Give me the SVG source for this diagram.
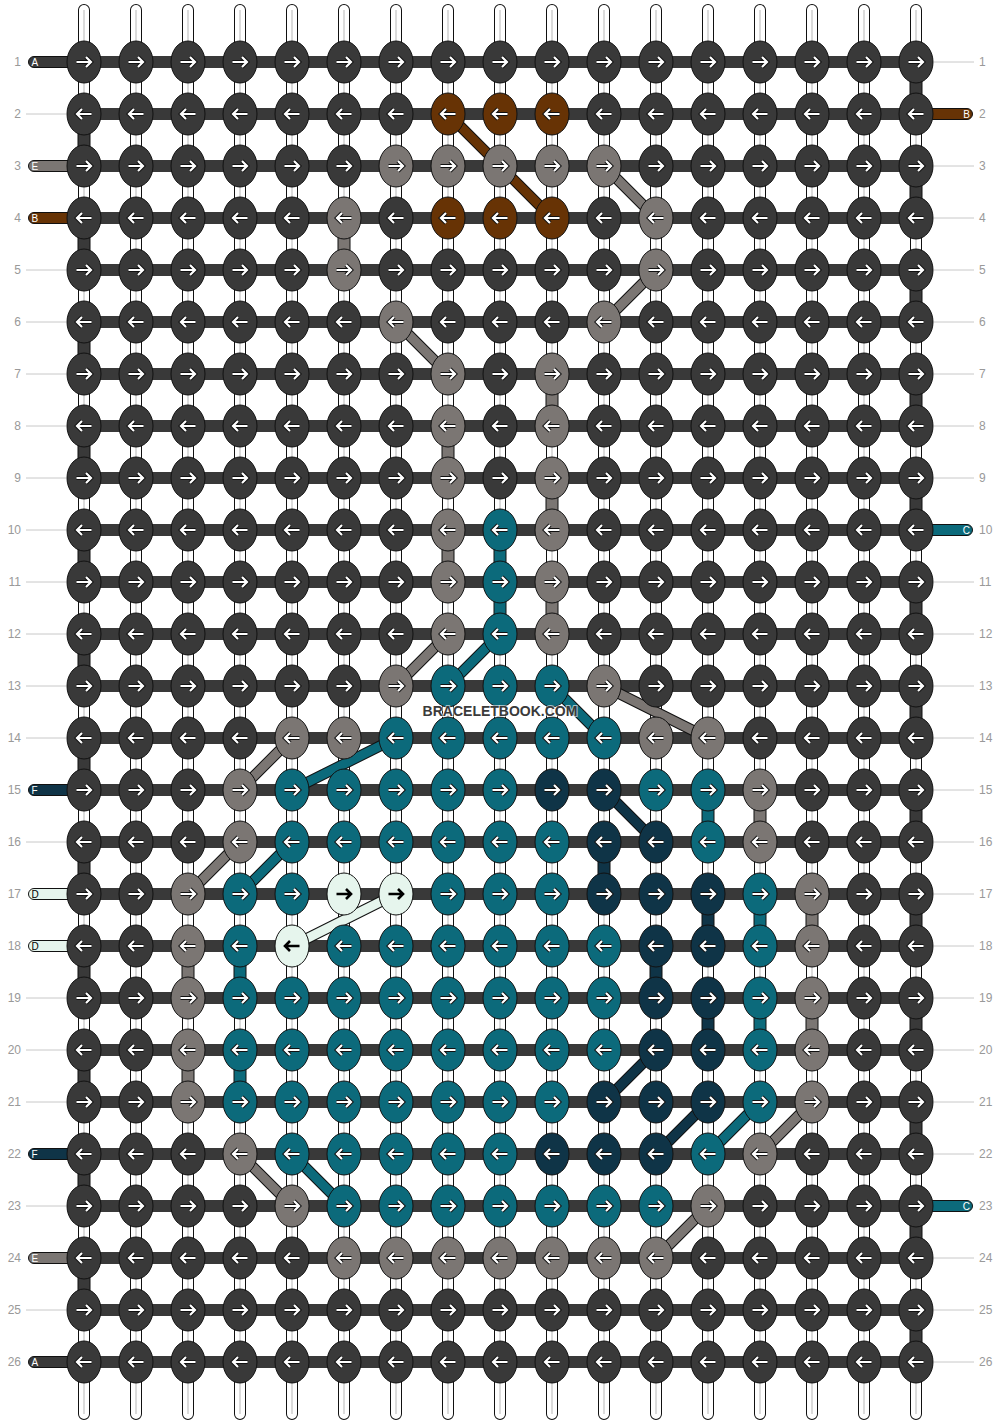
<svg xmlns="http://www.w3.org/2000/svg" width="1000" height="1424" viewBox="0 0 1000 1424">
<style>
.d{fill:#393939}.g{fill:#7b7673}.b{fill:#673305}.t{fill:#0c6a7b}.n{fill:#0f3447}.p{fill:#e6f5ed}
ellipse,.c{stroke:#111;stroke-width:1}
.ao{fill:none;stroke:#111;stroke-width:4.2}
.ai{fill:none;stroke:#fff;stroke-width:2.2}
.ab{fill:none;stroke:#000;stroke-width:2.6}
.w1{fill:none;stroke:#111;stroke-width:12;stroke-linecap:round}
.w2{fill:none;stroke:#fff;stroke-width:10;stroke-linecap:round}
.w3{fill:none;stroke:#c4c4c4;stroke-width:1.2}
.hb{fill:none;stroke:#393939;stroke-width:12}
.do{fill:none;stroke:#111;stroke-width:11}
.sb{fill:none;stroke:#673305;stroke-width:9}
.sg{fill:none;stroke:#7b7673;stroke-width:9}
.st{fill:none;stroke:#0c6a7b;stroke-width:9}
.sn{fill:none;stroke:#0f3447;stroke-width:9}
.sp{fill:none;stroke:#e6f5ed;stroke-width:9}
.tl{fill:none;stroke:#c8c8c8;stroke-width:1}
.rn{font-family:"Liberation Sans",Arial,sans-serif;font-size:12px;fill:#999}
.lt{font-family:"Liberation Sans",Arial,sans-serif;font-size:10px;fill:#fff}
.lk{fill:#000}
.wm{font-family:"Liberation Sans",Arial,sans-serif;font-size:14px;font-weight:bold;fill:#3a3a3a;stroke:#fff;stroke-width:2;stroke-opacity:0.6;paint-order:stroke}
</style>
<defs>
<path id="wp" d="M84 10V1414M136 10V1414M188 10V1414M240 10V1414M292 10V1414M344 10V1414M396 10V1414M448 10V1414M500 10V1414M552 10V1414M604 10V1414M656 10V1414M708 10V1414M760 10V1414M812 10V1414M864 10V1414M916 10V1414"/>
<g id="R"><path class="ao" d="M-7.5 0H6.5M2 -5L7 0L2 5"/><path class="ai" d="M-7.5 0H6.5M2 -5L7 0L2 5"/></g>
<g id="L"><use href="#R" transform="scale(-1 1)"/></g>
<g id="Rb"><path class="ab" d="M-7.5 0H6.5M2 -5L7 0L2 5"/></g>
<g id="Lb"><use href="#Rb" transform="scale(-1 1)"/></g>
</defs>
<rect width="1000" height="1424" fill="#fff"/>
<g id="connectors">
<g id="warp"><use href="#wp" class="w1"/><use href="#wp" class="w2"/><use href="#wp" class="w3"/></g>
<g id="edge-links">
<rect class="c d" x="78" y="129" width="12" height="22"/><rect class="c d" x="78" y="233" width="12" height="22"/><rect class="c d" x="78" y="337" width="12" height="22"/><rect class="c d" x="78" y="441" width="12" height="22"/><rect class="c d" x="78" y="545" width="12" height="22"/><rect class="c d" x="78" y="649" width="12" height="22"/><rect class="c d" x="78" y="753" width="12" height="22"/><rect class="c d" x="78" y="857" width="12" height="22"/><rect class="c d" x="78" y="961" width="12" height="22"/><rect class="c d" x="78" y="1065" width="12" height="22"/><rect class="c d" x="78" y="1169" width="12" height="22"/><rect class="c d" x="78" y="1273" width="12" height="22"/>
<rect class="c d" x="910" y="77" width="12" height="22"/><rect class="c d" x="910" y="181" width="12" height="22"/><rect class="c d" x="910" y="285" width="12" height="22"/><rect class="c d" x="910" y="389" width="12" height="22"/><rect class="c d" x="910" y="493" width="12" height="22"/><rect class="c d" x="910" y="597" width="12" height="22"/><rect class="c d" x="910" y="701" width="12" height="22"/><rect class="c d" x="910" y="805" width="12" height="22"/><rect class="c d" x="910" y="909" width="12" height="22"/><rect class="c d" x="910" y="1013" width="12" height="22"/><rect class="c d" x="910" y="1117" width="12" height="22"/><rect class="c d" x="910" y="1221" width="12" height="22"/><rect class="c d" x="910" y="1325" width="12" height="22"/>
</g>
<g id="vertical-links">
<rect class="c g" x="338" y="233" width="12" height="22"/>
<rect class="c g" x="546" y="389" width="12" height="22"/><rect class="c g" x="546" y="493" width="12" height="22"/><rect class="c g" x="546" y="597" width="12" height="22"/>
<rect class="c g" x="442" y="441" width="12" height="22"/><rect class="c g" x="442" y="545" width="12" height="22"/>
<rect class="c t" x="494" y="545" width="12" height="22"/><rect class="c t" x="494" y="597" width="12" height="22"/>
<rect class="c t" x="702" y="805" width="12" height="22"/><rect class="c g" x="754" y="805" width="12" height="22"/>
<rect class="c n" x="598" y="857" width="12" height="22"/>
<rect class="c n" x="702" y="909" width="12" height="22"/><rect class="c t" x="754" y="909" width="12" height="22"/><rect class="c g" x="806" y="909" width="12" height="22"/>
<rect class="c n" x="650" y="961" width="12" height="22"/><rect class="c g" x="182" y="961" width="12" height="22"/><rect class="c t" x="234" y="961" width="12" height="22"/>
<rect class="c n" x="702" y="1013" width="12" height="22"/><rect class="c t" x="754" y="1013" width="12" height="22"/><rect class="c g" x="806" y="1013" width="12" height="22"/>
<rect class="c g" x="182" y="1065" width="12" height="22"/><rect class="c t" x="234" y="1065" width="12" height="22"/>
</g>
<path id="rows" class="hb" d="M84 62H916M84 114H916M84 166H916M84 218H916M84 270H916M84 322H916M84 374H916M84 426H916M84 478H916M84 530H916M84 582H916M84 634H916M84 686H916M84 738H916M84 790H916M84 842H916M84 894H916M84 946H916M84 998H916M84 1050H916M84 1102H916M84 1154H916M84 1206H916M84 1258H916M84 1310H916M84 1362H916"/>
<g id="diagonals">
<path class="do" d="M448 114L552 218M604 166L656 218M656 270L604 322M396 322L448 374M448 634L396 686M604 686L708 738M292 738L240 790M240 842L188 894M812 1102L760 1154M240 1154L292 1206M708 1206L656 1258M500 634L448 686M552 686L604 738M396 738L292 790M292 842L240 894M760 1102L708 1154M292 1154L344 1206M604 790L656 842M656 1050L604 1102M708 1102L656 1154M396 894L292 946"/>
<path class="sb" d="M448 114L552 218"/>
<path class="sg" d="M604 166L656 218M656 270L604 322M396 322L448 374M448 634L396 686M604 686L708 738M292 738L240 790M240 842L188 894M812 1102L760 1154M240 1154L292 1206M708 1206L656 1258"/>
<path class="st" d="M500 634L448 686M552 686L604 738M396 738L292 790M292 842L240 894M760 1102L708 1154M292 1154L344 1206"/>
<path class="sn" d="M604 790L656 842M656 1050L604 1102M708 1102L656 1154"/>
<path class="sp" d="M396 894L292 946"/>
</g>
</g>
<g id="labels">
<path class="tl" d="M26 114H66M26 270H66M26 322H66M26 374H66M26 426H66M26 478H66M26 530H66M26 582H66M26 634H66M26 686H66M26 738H66M26 842H66M26 998H66M26 1050H66M26 1102H66M26 1206H66M26 1310H66"/>
<path class="tl" d="M934 62H974M934 166H974M934 218H974M934 270H974M934 322H974M934 374H974M934 426H974M934 478H974M934 582H974M934 634H974M934 686H974M934 738H974M934 790H974M934 842H974M934 894H974M934 946H974M934 998H974M934 1050H974M934 1102H974M934 1154H974M934 1258H974M934 1310H974M934 1362H974"/>
<g id="str-left">
<path class="c d" d="M76 56.5H34a5.5 5.5 0 0 0 0 11H76z"/><text class="lt" x="31.5" y="65.5">A</text>
<path class="c g" d="M76 160.5H34a5.5 5.5 0 0 0 0 11H76z"/><text class="lt" x="31.5" y="169.5">E</text>
<path class="c b" d="M76 212.5H34a5.5 5.5 0 0 0 0 11H76z"/><text class="lt" x="31.5" y="221.5">B</text>
<path class="c n" d="M76 784.5H34a5.5 5.5 0 0 0 0 11H76z"/><text class="lt" x="31.5" y="793.5">F</text>
<path class="c p" d="M76 888.5H34a5.5 5.5 0 0 0 0 11H76z"/><text class="lt lk" x="31.5" y="897.5">D</text>
<path class="c p" d="M76 940.5H34a5.5 5.5 0 0 0 0 11H76z"/><text class="lt lk" x="31.5" y="949.5">D</text>
<path class="c n" d="M76 1148.5H34a5.5 5.5 0 0 0 0 11H76z"/><text class="lt" x="31.5" y="1157.5">F</text>
<path class="c g" d="M76 1252.5H34a5.5 5.5 0 0 0 0 11H76z"/><text class="lt" x="31.5" y="1261.5">E</text>
<path class="c d" d="M76 1356.5H34a5.5 5.5 0 0 0 0 11H76z"/><text class="lt" x="31.5" y="1365.5">A</text>
</g>
<g id="str-right">
<path class="c b" d="M924 108.5H967a5.5 5.5 0 0 1 0 11H924z"/><text class="lt" x="970" y="117.5" text-anchor="end">B</text>
<path class="c t" d="M924 524.5H967a5.5 5.5 0 0 1 0 11H924z"/><text class="lt" x="970" y="533.5" text-anchor="end">C</text>
<path class="c t" d="M924 1200.5H967a5.5 5.5 0 0 1 0 11H924z"/><text class="lt" x="970" y="1209.5" text-anchor="end">C</text>
</g>
<g id="row-numbers-left" class="rn" text-anchor="end">
<text x="21" y="66">1</text><text x="21" y="118">2</text><text x="21" y="170">3</text><text x="21" y="222">4</text><text x="21" y="274">5</text><text x="21" y="326">6</text><text x="21" y="378">7</text><text x="21" y="430">8</text><text x="21" y="482">9</text><text x="21" y="534">10</text><text x="21" y="586">11</text><text x="21" y="638">12</text><text x="21" y="690">13</text><text x="21" y="742">14</text><text x="21" y="794">15</text><text x="21" y="846">16</text><text x="21" y="898">17</text><text x="21" y="950">18</text><text x="21" y="1002">19</text><text x="21" y="1054">20</text><text x="21" y="1106">21</text><text x="21" y="1158">22</text><text x="21" y="1210">23</text><text x="21" y="1262">24</text><text x="21" y="1314">25</text><text x="21" y="1366">26</text>
</g>
<g id="row-numbers-right" class="rn">
<text x="979" y="66">1</text><text x="979" y="118">2</text><text x="979" y="170">3</text><text x="979" y="222">4</text><text x="979" y="274">5</text><text x="979" y="326">6</text><text x="979" y="378">7</text><text x="979" y="430">8</text><text x="979" y="482">9</text><text x="979" y="534">10</text><text x="979" y="586">11</text><text x="979" y="638">12</text><text x="979" y="690">13</text><text x="979" y="742">14</text><text x="979" y="794">15</text><text x="979" y="846">16</text><text x="979" y="898">17</text><text x="979" y="950">18</text><text x="979" y="1002">19</text><text x="979" y="1054">20</text><text x="979" y="1106">21</text><text x="979" y="1158">22</text><text x="979" y="1210">23</text><text x="979" y="1262">24</text><text x="979" y="1314">25</text><text x="979" y="1366">26</text>
</g>
</g>
<g id="knots">
<g id="k1_1" transform="translate(84 62)"><ellipse class="d" rx="17" ry="21"/><use href="#R"/></g>
<g id="k1_2" transform="translate(136 62)"><ellipse class="d" rx="17" ry="21"/><use href="#R"/></g>
<g id="k1_3" transform="translate(188 62)"><ellipse class="d" rx="17" ry="21"/><use href="#R"/></g>
<g id="k1_4" transform="translate(240 62)"><ellipse class="d" rx="17" ry="21"/><use href="#R"/></g>
<g id="k1_5" transform="translate(292 62)"><ellipse class="d" rx="17" ry="21"/><use href="#R"/></g>
<g id="k1_6" transform="translate(344 62)"><ellipse class="d" rx="17" ry="21"/><use href="#R"/></g>
<g id="k1_7" transform="translate(396 62)"><ellipse class="d" rx="17" ry="21"/><use href="#R"/></g>
<g id="k1_8" transform="translate(448 62)"><ellipse class="d" rx="17" ry="21"/><use href="#R"/></g>
<g id="k1_9" transform="translate(500 62)"><ellipse class="d" rx="17" ry="21"/><use href="#R"/></g>
<g id="k1_10" transform="translate(552 62)"><ellipse class="d" rx="17" ry="21"/><use href="#R"/></g>
<g id="k1_11" transform="translate(604 62)"><ellipse class="d" rx="17" ry="21"/><use href="#R"/></g>
<g id="k1_12" transform="translate(656 62)"><ellipse class="d" rx="17" ry="21"/><use href="#R"/></g>
<g id="k1_13" transform="translate(708 62)"><ellipse class="d" rx="17" ry="21"/><use href="#R"/></g>
<g id="k1_14" transform="translate(760 62)"><ellipse class="d" rx="17" ry="21"/><use href="#R"/></g>
<g id="k1_15" transform="translate(812 62)"><ellipse class="d" rx="17" ry="21"/><use href="#R"/></g>
<g id="k1_16" transform="translate(864 62)"><ellipse class="d" rx="17" ry="21"/><use href="#R"/></g>
<g id="k1_17" transform="translate(916 62)"><ellipse class="d" rx="17" ry="21"/><use href="#R"/></g>
<g id="k2_1" transform="translate(84 114)"><ellipse class="d" rx="17" ry="21"/><use href="#L"/></g>
<g id="k2_2" transform="translate(136 114)"><ellipse class="d" rx="17" ry="21"/><use href="#L"/></g>
<g id="k2_3" transform="translate(188 114)"><ellipse class="d" rx="17" ry="21"/><use href="#L"/></g>
<g id="k2_4" transform="translate(240 114)"><ellipse class="d" rx="17" ry="21"/><use href="#L"/></g>
<g id="k2_5" transform="translate(292 114)"><ellipse class="d" rx="17" ry="21"/><use href="#L"/></g>
<g id="k2_6" transform="translate(344 114)"><ellipse class="d" rx="17" ry="21"/><use href="#L"/></g>
<g id="k2_7" transform="translate(396 114)"><ellipse class="d" rx="17" ry="21"/><use href="#L"/></g>
<g id="k2_8" transform="translate(448 114)"><ellipse class="b" rx="17" ry="21"/><use href="#L"/></g>
<g id="k2_9" transform="translate(500 114)"><ellipse class="b" rx="17" ry="21"/><use href="#L"/></g>
<g id="k2_10" transform="translate(552 114)"><ellipse class="b" rx="17" ry="21"/><use href="#L"/></g>
<g id="k2_11" transform="translate(604 114)"><ellipse class="d" rx="17" ry="21"/><use href="#L"/></g>
<g id="k2_12" transform="translate(656 114)"><ellipse class="d" rx="17" ry="21"/><use href="#L"/></g>
<g id="k2_13" transform="translate(708 114)"><ellipse class="d" rx="17" ry="21"/><use href="#L"/></g>
<g id="k2_14" transform="translate(760 114)"><ellipse class="d" rx="17" ry="21"/><use href="#L"/></g>
<g id="k2_15" transform="translate(812 114)"><ellipse class="d" rx="17" ry="21"/><use href="#L"/></g>
<g id="k2_16" transform="translate(864 114)"><ellipse class="d" rx="17" ry="21"/><use href="#L"/></g>
<g id="k2_17" transform="translate(916 114)"><ellipse class="d" rx="17" ry="21"/><use href="#L"/></g>
<g id="k3_1" transform="translate(84 166)"><ellipse class="d" rx="17" ry="21"/><use href="#R"/></g>
<g id="k3_2" transform="translate(136 166)"><ellipse class="d" rx="17" ry="21"/><use href="#R"/></g>
<g id="k3_3" transform="translate(188 166)"><ellipse class="d" rx="17" ry="21"/><use href="#R"/></g>
<g id="k3_4" transform="translate(240 166)"><ellipse class="d" rx="17" ry="21"/><use href="#R"/></g>
<g id="k3_5" transform="translate(292 166)"><ellipse class="d" rx="17" ry="21"/><use href="#R"/></g>
<g id="k3_6" transform="translate(344 166)"><ellipse class="d" rx="17" ry="21"/><use href="#R"/></g>
<g id="k3_7" transform="translate(396 166)"><ellipse class="g" rx="17" ry="21"/><use href="#R"/></g>
<g id="k3_8" transform="translate(448 166)"><ellipse class="g" rx="17" ry="21"/><use href="#R"/></g>
<g id="k3_9" transform="translate(500 166)"><ellipse class="g" rx="17" ry="21"/><use href="#R"/></g>
<g id="k3_10" transform="translate(552 166)"><ellipse class="g" rx="17" ry="21"/><use href="#R"/></g>
<g id="k3_11" transform="translate(604 166)"><ellipse class="g" rx="17" ry="21"/><use href="#R"/></g>
<g id="k3_12" transform="translate(656 166)"><ellipse class="d" rx="17" ry="21"/><use href="#R"/></g>
<g id="k3_13" transform="translate(708 166)"><ellipse class="d" rx="17" ry="21"/><use href="#R"/></g>
<g id="k3_14" transform="translate(760 166)"><ellipse class="d" rx="17" ry="21"/><use href="#R"/></g>
<g id="k3_15" transform="translate(812 166)"><ellipse class="d" rx="17" ry="21"/><use href="#R"/></g>
<g id="k3_16" transform="translate(864 166)"><ellipse class="d" rx="17" ry="21"/><use href="#R"/></g>
<g id="k3_17" transform="translate(916 166)"><ellipse class="d" rx="17" ry="21"/><use href="#R"/></g>
<g id="k4_1" transform="translate(84 218)"><ellipse class="d" rx="17" ry="21"/><use href="#L"/></g>
<g id="k4_2" transform="translate(136 218)"><ellipse class="d" rx="17" ry="21"/><use href="#L"/></g>
<g id="k4_3" transform="translate(188 218)"><ellipse class="d" rx="17" ry="21"/><use href="#L"/></g>
<g id="k4_4" transform="translate(240 218)"><ellipse class="d" rx="17" ry="21"/><use href="#L"/></g>
<g id="k4_5" transform="translate(292 218)"><ellipse class="d" rx="17" ry="21"/><use href="#L"/></g>
<g id="k4_6" transform="translate(344 218)"><ellipse class="g" rx="17" ry="21"/><use href="#L"/></g>
<g id="k4_7" transform="translate(396 218)"><ellipse class="d" rx="17" ry="21"/><use href="#L"/></g>
<g id="k4_8" transform="translate(448 218)"><ellipse class="b" rx="17" ry="21"/><use href="#L"/></g>
<g id="k4_9" transform="translate(500 218)"><ellipse class="b" rx="17" ry="21"/><use href="#L"/></g>
<g id="k4_10" transform="translate(552 218)"><ellipse class="b" rx="17" ry="21"/><use href="#L"/></g>
<g id="k4_11" transform="translate(604 218)"><ellipse class="d" rx="17" ry="21"/><use href="#L"/></g>
<g id="k4_12" transform="translate(656 218)"><ellipse class="g" rx="17" ry="21"/><use href="#L"/></g>
<g id="k4_13" transform="translate(708 218)"><ellipse class="d" rx="17" ry="21"/><use href="#L"/></g>
<g id="k4_14" transform="translate(760 218)"><ellipse class="d" rx="17" ry="21"/><use href="#L"/></g>
<g id="k4_15" transform="translate(812 218)"><ellipse class="d" rx="17" ry="21"/><use href="#L"/></g>
<g id="k4_16" transform="translate(864 218)"><ellipse class="d" rx="17" ry="21"/><use href="#L"/></g>
<g id="k4_17" transform="translate(916 218)"><ellipse class="d" rx="17" ry="21"/><use href="#L"/></g>
<g id="k5_1" transform="translate(84 270)"><ellipse class="d" rx="17" ry="21"/><use href="#R"/></g>
<g id="k5_2" transform="translate(136 270)"><ellipse class="d" rx="17" ry="21"/><use href="#R"/></g>
<g id="k5_3" transform="translate(188 270)"><ellipse class="d" rx="17" ry="21"/><use href="#R"/></g>
<g id="k5_4" transform="translate(240 270)"><ellipse class="d" rx="17" ry="21"/><use href="#R"/></g>
<g id="k5_5" transform="translate(292 270)"><ellipse class="d" rx="17" ry="21"/><use href="#R"/></g>
<g id="k5_6" transform="translate(344 270)"><ellipse class="g" rx="17" ry="21"/><use href="#R"/></g>
<g id="k5_7" transform="translate(396 270)"><ellipse class="d" rx="17" ry="21"/><use href="#R"/></g>
<g id="k5_8" transform="translate(448 270)"><ellipse class="d" rx="17" ry="21"/><use href="#R"/></g>
<g id="k5_9" transform="translate(500 270)"><ellipse class="d" rx="17" ry="21"/><use href="#R"/></g>
<g id="k5_10" transform="translate(552 270)"><ellipse class="d" rx="17" ry="21"/><use href="#R"/></g>
<g id="k5_11" transform="translate(604 270)"><ellipse class="d" rx="17" ry="21"/><use href="#R"/></g>
<g id="k5_12" transform="translate(656 270)"><ellipse class="g" rx="17" ry="21"/><use href="#R"/></g>
<g id="k5_13" transform="translate(708 270)"><ellipse class="d" rx="17" ry="21"/><use href="#R"/></g>
<g id="k5_14" transform="translate(760 270)"><ellipse class="d" rx="17" ry="21"/><use href="#R"/></g>
<g id="k5_15" transform="translate(812 270)"><ellipse class="d" rx="17" ry="21"/><use href="#R"/></g>
<g id="k5_16" transform="translate(864 270)"><ellipse class="d" rx="17" ry="21"/><use href="#R"/></g>
<g id="k5_17" transform="translate(916 270)"><ellipse class="d" rx="17" ry="21"/><use href="#R"/></g>
<g id="k6_1" transform="translate(84 322)"><ellipse class="d" rx="17" ry="21"/><use href="#L"/></g>
<g id="k6_2" transform="translate(136 322)"><ellipse class="d" rx="17" ry="21"/><use href="#L"/></g>
<g id="k6_3" transform="translate(188 322)"><ellipse class="d" rx="17" ry="21"/><use href="#L"/></g>
<g id="k6_4" transform="translate(240 322)"><ellipse class="d" rx="17" ry="21"/><use href="#L"/></g>
<g id="k6_5" transform="translate(292 322)"><ellipse class="d" rx="17" ry="21"/><use href="#L"/></g>
<g id="k6_6" transform="translate(344 322)"><ellipse class="d" rx="17" ry="21"/><use href="#L"/></g>
<g id="k6_7" transform="translate(396 322)"><ellipse class="g" rx="17" ry="21"/><use href="#L"/></g>
<g id="k6_8" transform="translate(448 322)"><ellipse class="d" rx="17" ry="21"/><use href="#L"/></g>
<g id="k6_9" transform="translate(500 322)"><ellipse class="d" rx="17" ry="21"/><use href="#L"/></g>
<g id="k6_10" transform="translate(552 322)"><ellipse class="d" rx="17" ry="21"/><use href="#L"/></g>
<g id="k6_11" transform="translate(604 322)"><ellipse class="g" rx="17" ry="21"/><use href="#L"/></g>
<g id="k6_12" transform="translate(656 322)"><ellipse class="d" rx="17" ry="21"/><use href="#L"/></g>
<g id="k6_13" transform="translate(708 322)"><ellipse class="d" rx="17" ry="21"/><use href="#L"/></g>
<g id="k6_14" transform="translate(760 322)"><ellipse class="d" rx="17" ry="21"/><use href="#L"/></g>
<g id="k6_15" transform="translate(812 322)"><ellipse class="d" rx="17" ry="21"/><use href="#L"/></g>
<g id="k6_16" transform="translate(864 322)"><ellipse class="d" rx="17" ry="21"/><use href="#L"/></g>
<g id="k6_17" transform="translate(916 322)"><ellipse class="d" rx="17" ry="21"/><use href="#L"/></g>
<g id="k7_1" transform="translate(84 374)"><ellipse class="d" rx="17" ry="21"/><use href="#R"/></g>
<g id="k7_2" transform="translate(136 374)"><ellipse class="d" rx="17" ry="21"/><use href="#R"/></g>
<g id="k7_3" transform="translate(188 374)"><ellipse class="d" rx="17" ry="21"/><use href="#R"/></g>
<g id="k7_4" transform="translate(240 374)"><ellipse class="d" rx="17" ry="21"/><use href="#R"/></g>
<g id="k7_5" transform="translate(292 374)"><ellipse class="d" rx="17" ry="21"/><use href="#R"/></g>
<g id="k7_6" transform="translate(344 374)"><ellipse class="d" rx="17" ry="21"/><use href="#R"/></g>
<g id="k7_7" transform="translate(396 374)"><ellipse class="d" rx="17" ry="21"/><use href="#R"/></g>
<g id="k7_8" transform="translate(448 374)"><ellipse class="g" rx="17" ry="21"/><use href="#R"/></g>
<g id="k7_9" transform="translate(500 374)"><ellipse class="d" rx="17" ry="21"/><use href="#R"/></g>
<g id="k7_10" transform="translate(552 374)"><ellipse class="g" rx="17" ry="21"/><use href="#R"/></g>
<g id="k7_11" transform="translate(604 374)"><ellipse class="d" rx="17" ry="21"/><use href="#R"/></g>
<g id="k7_12" transform="translate(656 374)"><ellipse class="d" rx="17" ry="21"/><use href="#R"/></g>
<g id="k7_13" transform="translate(708 374)"><ellipse class="d" rx="17" ry="21"/><use href="#R"/></g>
<g id="k7_14" transform="translate(760 374)"><ellipse class="d" rx="17" ry="21"/><use href="#R"/></g>
<g id="k7_15" transform="translate(812 374)"><ellipse class="d" rx="17" ry="21"/><use href="#R"/></g>
<g id="k7_16" transform="translate(864 374)"><ellipse class="d" rx="17" ry="21"/><use href="#R"/></g>
<g id="k7_17" transform="translate(916 374)"><ellipse class="d" rx="17" ry="21"/><use href="#R"/></g>
<g id="k8_1" transform="translate(84 426)"><ellipse class="d" rx="17" ry="21"/><use href="#L"/></g>
<g id="k8_2" transform="translate(136 426)"><ellipse class="d" rx="17" ry="21"/><use href="#L"/></g>
<g id="k8_3" transform="translate(188 426)"><ellipse class="d" rx="17" ry="21"/><use href="#L"/></g>
<g id="k8_4" transform="translate(240 426)"><ellipse class="d" rx="17" ry="21"/><use href="#L"/></g>
<g id="k8_5" transform="translate(292 426)"><ellipse class="d" rx="17" ry="21"/><use href="#L"/></g>
<g id="k8_6" transform="translate(344 426)"><ellipse class="d" rx="17" ry="21"/><use href="#L"/></g>
<g id="k8_7" transform="translate(396 426)"><ellipse class="d" rx="17" ry="21"/><use href="#L"/></g>
<g id="k8_8" transform="translate(448 426)"><ellipse class="g" rx="17" ry="21"/><use href="#L"/></g>
<g id="k8_9" transform="translate(500 426)"><ellipse class="d" rx="17" ry="21"/><use href="#L"/></g>
<g id="k8_10" transform="translate(552 426)"><ellipse class="g" rx="17" ry="21"/><use href="#L"/></g>
<g id="k8_11" transform="translate(604 426)"><ellipse class="d" rx="17" ry="21"/><use href="#L"/></g>
<g id="k8_12" transform="translate(656 426)"><ellipse class="d" rx="17" ry="21"/><use href="#L"/></g>
<g id="k8_13" transform="translate(708 426)"><ellipse class="d" rx="17" ry="21"/><use href="#L"/></g>
<g id="k8_14" transform="translate(760 426)"><ellipse class="d" rx="17" ry="21"/><use href="#L"/></g>
<g id="k8_15" transform="translate(812 426)"><ellipse class="d" rx="17" ry="21"/><use href="#L"/></g>
<g id="k8_16" transform="translate(864 426)"><ellipse class="d" rx="17" ry="21"/><use href="#L"/></g>
<g id="k8_17" transform="translate(916 426)"><ellipse class="d" rx="17" ry="21"/><use href="#L"/></g>
<g id="k9_1" transform="translate(84 478)"><ellipse class="d" rx="17" ry="21"/><use href="#R"/></g>
<g id="k9_2" transform="translate(136 478)"><ellipse class="d" rx="17" ry="21"/><use href="#R"/></g>
<g id="k9_3" transform="translate(188 478)"><ellipse class="d" rx="17" ry="21"/><use href="#R"/></g>
<g id="k9_4" transform="translate(240 478)"><ellipse class="d" rx="17" ry="21"/><use href="#R"/></g>
<g id="k9_5" transform="translate(292 478)"><ellipse class="d" rx="17" ry="21"/><use href="#R"/></g>
<g id="k9_6" transform="translate(344 478)"><ellipse class="d" rx="17" ry="21"/><use href="#R"/></g>
<g id="k9_7" transform="translate(396 478)"><ellipse class="d" rx="17" ry="21"/><use href="#R"/></g>
<g id="k9_8" transform="translate(448 478)"><ellipse class="g" rx="17" ry="21"/><use href="#R"/></g>
<g id="k9_9" transform="translate(500 478)"><ellipse class="d" rx="17" ry="21"/><use href="#R"/></g>
<g id="k9_10" transform="translate(552 478)"><ellipse class="g" rx="17" ry="21"/><use href="#R"/></g>
<g id="k9_11" transform="translate(604 478)"><ellipse class="d" rx="17" ry="21"/><use href="#R"/></g>
<g id="k9_12" transform="translate(656 478)"><ellipse class="d" rx="17" ry="21"/><use href="#R"/></g>
<g id="k9_13" transform="translate(708 478)"><ellipse class="d" rx="17" ry="21"/><use href="#R"/></g>
<g id="k9_14" transform="translate(760 478)"><ellipse class="d" rx="17" ry="21"/><use href="#R"/></g>
<g id="k9_15" transform="translate(812 478)"><ellipse class="d" rx="17" ry="21"/><use href="#R"/></g>
<g id="k9_16" transform="translate(864 478)"><ellipse class="d" rx="17" ry="21"/><use href="#R"/></g>
<g id="k9_17" transform="translate(916 478)"><ellipse class="d" rx="17" ry="21"/><use href="#R"/></g>
<g id="k10_1" transform="translate(84 530)"><ellipse class="d" rx="17" ry="21"/><use href="#L"/></g>
<g id="k10_2" transform="translate(136 530)"><ellipse class="d" rx="17" ry="21"/><use href="#L"/></g>
<g id="k10_3" transform="translate(188 530)"><ellipse class="d" rx="17" ry="21"/><use href="#L"/></g>
<g id="k10_4" transform="translate(240 530)"><ellipse class="d" rx="17" ry="21"/><use href="#L"/></g>
<g id="k10_5" transform="translate(292 530)"><ellipse class="d" rx="17" ry="21"/><use href="#L"/></g>
<g id="k10_6" transform="translate(344 530)"><ellipse class="d" rx="17" ry="21"/><use href="#L"/></g>
<g id="k10_7" transform="translate(396 530)"><ellipse class="d" rx="17" ry="21"/><use href="#L"/></g>
<g id="k10_8" transform="translate(448 530)"><ellipse class="g" rx="17" ry="21"/><use href="#L"/></g>
<g id="k10_9" transform="translate(500 530)"><ellipse class="t" rx="17" ry="21"/><use href="#L"/></g>
<g id="k10_10" transform="translate(552 530)"><ellipse class="g" rx="17" ry="21"/><use href="#L"/></g>
<g id="k10_11" transform="translate(604 530)"><ellipse class="d" rx="17" ry="21"/><use href="#L"/></g>
<g id="k10_12" transform="translate(656 530)"><ellipse class="d" rx="17" ry="21"/><use href="#L"/></g>
<g id="k10_13" transform="translate(708 530)"><ellipse class="d" rx="17" ry="21"/><use href="#L"/></g>
<g id="k10_14" transform="translate(760 530)"><ellipse class="d" rx="17" ry="21"/><use href="#L"/></g>
<g id="k10_15" transform="translate(812 530)"><ellipse class="d" rx="17" ry="21"/><use href="#L"/></g>
<g id="k10_16" transform="translate(864 530)"><ellipse class="d" rx="17" ry="21"/><use href="#L"/></g>
<g id="k10_17" transform="translate(916 530)"><ellipse class="d" rx="17" ry="21"/><use href="#L"/></g>
<g id="k11_1" transform="translate(84 582)"><ellipse class="d" rx="17" ry="21"/><use href="#R"/></g>
<g id="k11_2" transform="translate(136 582)"><ellipse class="d" rx="17" ry="21"/><use href="#R"/></g>
<g id="k11_3" transform="translate(188 582)"><ellipse class="d" rx="17" ry="21"/><use href="#R"/></g>
<g id="k11_4" transform="translate(240 582)"><ellipse class="d" rx="17" ry="21"/><use href="#R"/></g>
<g id="k11_5" transform="translate(292 582)"><ellipse class="d" rx="17" ry="21"/><use href="#R"/></g>
<g id="k11_6" transform="translate(344 582)"><ellipse class="d" rx="17" ry="21"/><use href="#R"/></g>
<g id="k11_7" transform="translate(396 582)"><ellipse class="d" rx="17" ry="21"/><use href="#R"/></g>
<g id="k11_8" transform="translate(448 582)"><ellipse class="g" rx="17" ry="21"/><use href="#R"/></g>
<g id="k11_9" transform="translate(500 582)"><ellipse class="t" rx="17" ry="21"/><use href="#R"/></g>
<g id="k11_10" transform="translate(552 582)"><ellipse class="g" rx="17" ry="21"/><use href="#R"/></g>
<g id="k11_11" transform="translate(604 582)"><ellipse class="d" rx="17" ry="21"/><use href="#R"/></g>
<g id="k11_12" transform="translate(656 582)"><ellipse class="d" rx="17" ry="21"/><use href="#R"/></g>
<g id="k11_13" transform="translate(708 582)"><ellipse class="d" rx="17" ry="21"/><use href="#R"/></g>
<g id="k11_14" transform="translate(760 582)"><ellipse class="d" rx="17" ry="21"/><use href="#R"/></g>
<g id="k11_15" transform="translate(812 582)"><ellipse class="d" rx="17" ry="21"/><use href="#R"/></g>
<g id="k11_16" transform="translate(864 582)"><ellipse class="d" rx="17" ry="21"/><use href="#R"/></g>
<g id="k11_17" transform="translate(916 582)"><ellipse class="d" rx="17" ry="21"/><use href="#R"/></g>
<g id="k12_1" transform="translate(84 634)"><ellipse class="d" rx="17" ry="21"/><use href="#L"/></g>
<g id="k12_2" transform="translate(136 634)"><ellipse class="d" rx="17" ry="21"/><use href="#L"/></g>
<g id="k12_3" transform="translate(188 634)"><ellipse class="d" rx="17" ry="21"/><use href="#L"/></g>
<g id="k12_4" transform="translate(240 634)"><ellipse class="d" rx="17" ry="21"/><use href="#L"/></g>
<g id="k12_5" transform="translate(292 634)"><ellipse class="d" rx="17" ry="21"/><use href="#L"/></g>
<g id="k12_6" transform="translate(344 634)"><ellipse class="d" rx="17" ry="21"/><use href="#L"/></g>
<g id="k12_7" transform="translate(396 634)"><ellipse class="d" rx="17" ry="21"/><use href="#L"/></g>
<g id="k12_8" transform="translate(448 634)"><ellipse class="g" rx="17" ry="21"/><use href="#L"/></g>
<g id="k12_9" transform="translate(500 634)"><ellipse class="t" rx="17" ry="21"/><use href="#L"/></g>
<g id="k12_10" transform="translate(552 634)"><ellipse class="g" rx="17" ry="21"/><use href="#L"/></g>
<g id="k12_11" transform="translate(604 634)"><ellipse class="d" rx="17" ry="21"/><use href="#L"/></g>
<g id="k12_12" transform="translate(656 634)"><ellipse class="d" rx="17" ry="21"/><use href="#L"/></g>
<g id="k12_13" transform="translate(708 634)"><ellipse class="d" rx="17" ry="21"/><use href="#L"/></g>
<g id="k12_14" transform="translate(760 634)"><ellipse class="d" rx="17" ry="21"/><use href="#L"/></g>
<g id="k12_15" transform="translate(812 634)"><ellipse class="d" rx="17" ry="21"/><use href="#L"/></g>
<g id="k12_16" transform="translate(864 634)"><ellipse class="d" rx="17" ry="21"/><use href="#L"/></g>
<g id="k12_17" transform="translate(916 634)"><ellipse class="d" rx="17" ry="21"/><use href="#L"/></g>
<g id="k13_1" transform="translate(84 686)"><ellipse class="d" rx="17" ry="21"/><use href="#R"/></g>
<g id="k13_2" transform="translate(136 686)"><ellipse class="d" rx="17" ry="21"/><use href="#R"/></g>
<g id="k13_3" transform="translate(188 686)"><ellipse class="d" rx="17" ry="21"/><use href="#R"/></g>
<g id="k13_4" transform="translate(240 686)"><ellipse class="d" rx="17" ry="21"/><use href="#R"/></g>
<g id="k13_5" transform="translate(292 686)"><ellipse class="d" rx="17" ry="21"/><use href="#R"/></g>
<g id="k13_6" transform="translate(344 686)"><ellipse class="d" rx="17" ry="21"/><use href="#R"/></g>
<g id="k13_7" transform="translate(396 686)"><ellipse class="g" rx="17" ry="21"/><use href="#R"/></g>
<g id="k13_8" transform="translate(448 686)"><ellipse class="t" rx="17" ry="21"/><use href="#R"/></g>
<g id="k13_9" transform="translate(500 686)"><ellipse class="t" rx="17" ry="21"/><use href="#R"/></g>
<g id="k13_10" transform="translate(552 686)"><ellipse class="t" rx="17" ry="21"/><use href="#R"/></g>
<g id="k13_11" transform="translate(604 686)"><ellipse class="g" rx="17" ry="21"/><use href="#R"/></g>
<g id="k13_12" transform="translate(656 686)"><ellipse class="d" rx="17" ry="21"/><use href="#R"/></g>
<g id="k13_13" transform="translate(708 686)"><ellipse class="d" rx="17" ry="21"/><use href="#R"/></g>
<g id="k13_14" transform="translate(760 686)"><ellipse class="d" rx="17" ry="21"/><use href="#R"/></g>
<g id="k13_15" transform="translate(812 686)"><ellipse class="d" rx="17" ry="21"/><use href="#R"/></g>
<g id="k13_16" transform="translate(864 686)"><ellipse class="d" rx="17" ry="21"/><use href="#R"/></g>
<g id="k13_17" transform="translate(916 686)"><ellipse class="d" rx="17" ry="21"/><use href="#R"/></g>
<g id="k14_1" transform="translate(84 738)"><ellipse class="d" rx="17" ry="21"/><use href="#L"/></g>
<g id="k14_2" transform="translate(136 738)"><ellipse class="d" rx="17" ry="21"/><use href="#L"/></g>
<g id="k14_3" transform="translate(188 738)"><ellipse class="d" rx="17" ry="21"/><use href="#L"/></g>
<g id="k14_4" transform="translate(240 738)"><ellipse class="d" rx="17" ry="21"/><use href="#L"/></g>
<g id="k14_5" transform="translate(292 738)"><ellipse class="g" rx="17" ry="21"/><use href="#L"/></g>
<g id="k14_6" transform="translate(344 738)"><ellipse class="g" rx="17" ry="21"/><use href="#L"/></g>
<g id="k14_7" transform="translate(396 738)"><ellipse class="t" rx="17" ry="21"/><use href="#L"/></g>
<g id="k14_8" transform="translate(448 738)"><ellipse class="t" rx="17" ry="21"/><use href="#L"/></g>
<g id="k14_9" transform="translate(500 738)"><ellipse class="t" rx="17" ry="21"/><use href="#L"/></g>
<g id="k14_10" transform="translate(552 738)"><ellipse class="t" rx="17" ry="21"/><use href="#L"/></g>
<g id="k14_11" transform="translate(604 738)"><ellipse class="t" rx="17" ry="21"/><use href="#L"/></g>
<g id="k14_12" transform="translate(656 738)"><ellipse class="g" rx="17" ry="21"/><use href="#L"/></g>
<g id="k14_13" transform="translate(708 738)"><ellipse class="g" rx="17" ry="21"/><use href="#L"/></g>
<g id="k14_14" transform="translate(760 738)"><ellipse class="d" rx="17" ry="21"/><use href="#L"/></g>
<g id="k14_15" transform="translate(812 738)"><ellipse class="d" rx="17" ry="21"/><use href="#L"/></g>
<g id="k14_16" transform="translate(864 738)"><ellipse class="d" rx="17" ry="21"/><use href="#L"/></g>
<g id="k14_17" transform="translate(916 738)"><ellipse class="d" rx="17" ry="21"/><use href="#L"/></g>
<g id="k15_1" transform="translate(84 790)"><ellipse class="d" rx="17" ry="21"/><use href="#R"/></g>
<g id="k15_2" transform="translate(136 790)"><ellipse class="d" rx="17" ry="21"/><use href="#R"/></g>
<g id="k15_3" transform="translate(188 790)"><ellipse class="d" rx="17" ry="21"/><use href="#R"/></g>
<g id="k15_4" transform="translate(240 790)"><ellipse class="g" rx="17" ry="21"/><use href="#R"/></g>
<g id="k15_5" transform="translate(292 790)"><ellipse class="t" rx="17" ry="21"/><use href="#R"/></g>
<g id="k15_6" transform="translate(344 790)"><ellipse class="t" rx="17" ry="21"/><use href="#R"/></g>
<g id="k15_7" transform="translate(396 790)"><ellipse class="t" rx="17" ry="21"/><use href="#R"/></g>
<g id="k15_8" transform="translate(448 790)"><ellipse class="t" rx="17" ry="21"/><use href="#R"/></g>
<g id="k15_9" transform="translate(500 790)"><ellipse class="t" rx="17" ry="21"/><use href="#R"/></g>
<g id="k15_10" transform="translate(552 790)"><ellipse class="n" rx="17" ry="21"/><use href="#R"/></g>
<g id="k15_11" transform="translate(604 790)"><ellipse class="n" rx="17" ry="21"/><use href="#R"/></g>
<g id="k15_12" transform="translate(656 790)"><ellipse class="t" rx="17" ry="21"/><use href="#R"/></g>
<g id="k15_13" transform="translate(708 790)"><ellipse class="t" rx="17" ry="21"/><use href="#R"/></g>
<g id="k15_14" transform="translate(760 790)"><ellipse class="g" rx="17" ry="21"/><use href="#R"/></g>
<g id="k15_15" transform="translate(812 790)"><ellipse class="d" rx="17" ry="21"/><use href="#R"/></g>
<g id="k15_16" transform="translate(864 790)"><ellipse class="d" rx="17" ry="21"/><use href="#R"/></g>
<g id="k15_17" transform="translate(916 790)"><ellipse class="d" rx="17" ry="21"/><use href="#R"/></g>
<g id="k16_1" transform="translate(84 842)"><ellipse class="d" rx="17" ry="21"/><use href="#L"/></g>
<g id="k16_2" transform="translate(136 842)"><ellipse class="d" rx="17" ry="21"/><use href="#L"/></g>
<g id="k16_3" transform="translate(188 842)"><ellipse class="d" rx="17" ry="21"/><use href="#L"/></g>
<g id="k16_4" transform="translate(240 842)"><ellipse class="g" rx="17" ry="21"/><use href="#L"/></g>
<g id="k16_5" transform="translate(292 842)"><ellipse class="t" rx="17" ry="21"/><use href="#L"/></g>
<g id="k16_6" transform="translate(344 842)"><ellipse class="t" rx="17" ry="21"/><use href="#L"/></g>
<g id="k16_7" transform="translate(396 842)"><ellipse class="t" rx="17" ry="21"/><use href="#L"/></g>
<g id="k16_8" transform="translate(448 842)"><ellipse class="t" rx="17" ry="21"/><use href="#L"/></g>
<g id="k16_9" transform="translate(500 842)"><ellipse class="t" rx="17" ry="21"/><use href="#L"/></g>
<g id="k16_10" transform="translate(552 842)"><ellipse class="t" rx="17" ry="21"/><use href="#L"/></g>
<g id="k16_11" transform="translate(604 842)"><ellipse class="n" rx="17" ry="21"/><use href="#L"/></g>
<g id="k16_12" transform="translate(656 842)"><ellipse class="n" rx="17" ry="21"/><use href="#L"/></g>
<g id="k16_13" transform="translate(708 842)"><ellipse class="t" rx="17" ry="21"/><use href="#L"/></g>
<g id="k16_14" transform="translate(760 842)"><ellipse class="g" rx="17" ry="21"/><use href="#L"/></g>
<g id="k16_15" transform="translate(812 842)"><ellipse class="d" rx="17" ry="21"/><use href="#L"/></g>
<g id="k16_16" transform="translate(864 842)"><ellipse class="d" rx="17" ry="21"/><use href="#L"/></g>
<g id="k16_17" transform="translate(916 842)"><ellipse class="d" rx="17" ry="21"/><use href="#L"/></g>
<g id="k17_1" transform="translate(84 894)"><ellipse class="d" rx="17" ry="21"/><use href="#R"/></g>
<g id="k17_2" transform="translate(136 894)"><ellipse class="d" rx="17" ry="21"/><use href="#R"/></g>
<g id="k17_3" transform="translate(188 894)"><ellipse class="g" rx="17" ry="21"/><use href="#R"/></g>
<g id="k17_4" transform="translate(240 894)"><ellipse class="t" rx="17" ry="21"/><use href="#R"/></g>
<g id="k17_5" transform="translate(292 894)"><ellipse class="t" rx="17" ry="21"/><use href="#R"/></g>
<g id="k17_6" transform="translate(344 894)"><ellipse class="p" rx="17" ry="21"/><use href="#Rb"/></g>
<g id="k17_7" transform="translate(396 894)"><ellipse class="p" rx="17" ry="21"/><use href="#Rb"/></g>
<g id="k17_8" transform="translate(448 894)"><ellipse class="t" rx="17" ry="21"/><use href="#R"/></g>
<g id="k17_9" transform="translate(500 894)"><ellipse class="t" rx="17" ry="21"/><use href="#R"/></g>
<g id="k17_10" transform="translate(552 894)"><ellipse class="t" rx="17" ry="21"/><use href="#R"/></g>
<g id="k17_11" transform="translate(604 894)"><ellipse class="n" rx="17" ry="21"/><use href="#R"/></g>
<g id="k17_12" transform="translate(656 894)"><ellipse class="n" rx="17" ry="21"/><use href="#R"/></g>
<g id="k17_13" transform="translate(708 894)"><ellipse class="n" rx="17" ry="21"/><use href="#R"/></g>
<g id="k17_14" transform="translate(760 894)"><ellipse class="t" rx="17" ry="21"/><use href="#R"/></g>
<g id="k17_15" transform="translate(812 894)"><ellipse class="g" rx="17" ry="21"/><use href="#R"/></g>
<g id="k17_16" transform="translate(864 894)"><ellipse class="d" rx="17" ry="21"/><use href="#R"/></g>
<g id="k17_17" transform="translate(916 894)"><ellipse class="d" rx="17" ry="21"/><use href="#R"/></g>
<g id="k18_1" transform="translate(84 946)"><ellipse class="d" rx="17" ry="21"/><use href="#L"/></g>
<g id="k18_2" transform="translate(136 946)"><ellipse class="d" rx="17" ry="21"/><use href="#L"/></g>
<g id="k18_3" transform="translate(188 946)"><ellipse class="g" rx="17" ry="21"/><use href="#L"/></g>
<g id="k18_4" transform="translate(240 946)"><ellipse class="t" rx="17" ry="21"/><use href="#L"/></g>
<g id="k18_5" transform="translate(292 946)"><ellipse class="p" rx="17" ry="21"/><use href="#Lb"/></g>
<g id="k18_6" transform="translate(344 946)"><ellipse class="t" rx="17" ry="21"/><use href="#L"/></g>
<g id="k18_7" transform="translate(396 946)"><ellipse class="t" rx="17" ry="21"/><use href="#L"/></g>
<g id="k18_8" transform="translate(448 946)"><ellipse class="t" rx="17" ry="21"/><use href="#L"/></g>
<g id="k18_9" transform="translate(500 946)"><ellipse class="t" rx="17" ry="21"/><use href="#L"/></g>
<g id="k18_10" transform="translate(552 946)"><ellipse class="t" rx="17" ry="21"/><use href="#L"/></g>
<g id="k18_11" transform="translate(604 946)"><ellipse class="t" rx="17" ry="21"/><use href="#L"/></g>
<g id="k18_12" transform="translate(656 946)"><ellipse class="n" rx="17" ry="21"/><use href="#L"/></g>
<g id="k18_13" transform="translate(708 946)"><ellipse class="n" rx="17" ry="21"/><use href="#L"/></g>
<g id="k18_14" transform="translate(760 946)"><ellipse class="t" rx="17" ry="21"/><use href="#L"/></g>
<g id="k18_15" transform="translate(812 946)"><ellipse class="g" rx="17" ry="21"/><use href="#L"/></g>
<g id="k18_16" transform="translate(864 946)"><ellipse class="d" rx="17" ry="21"/><use href="#L"/></g>
<g id="k18_17" transform="translate(916 946)"><ellipse class="d" rx="17" ry="21"/><use href="#L"/></g>
<g id="k19_1" transform="translate(84 998)"><ellipse class="d" rx="17" ry="21"/><use href="#R"/></g>
<g id="k19_2" transform="translate(136 998)"><ellipse class="d" rx="17" ry="21"/><use href="#R"/></g>
<g id="k19_3" transform="translate(188 998)"><ellipse class="g" rx="17" ry="21"/><use href="#R"/></g>
<g id="k19_4" transform="translate(240 998)"><ellipse class="t" rx="17" ry="21"/><use href="#R"/></g>
<g id="k19_5" transform="translate(292 998)"><ellipse class="t" rx="17" ry="21"/><use href="#R"/></g>
<g id="k19_6" transform="translate(344 998)"><ellipse class="t" rx="17" ry="21"/><use href="#R"/></g>
<g id="k19_7" transform="translate(396 998)"><ellipse class="t" rx="17" ry="21"/><use href="#R"/></g>
<g id="k19_8" transform="translate(448 998)"><ellipse class="t" rx="17" ry="21"/><use href="#R"/></g>
<g id="k19_9" transform="translate(500 998)"><ellipse class="t" rx="17" ry="21"/><use href="#R"/></g>
<g id="k19_10" transform="translate(552 998)"><ellipse class="t" rx="17" ry="21"/><use href="#R"/></g>
<g id="k19_11" transform="translate(604 998)"><ellipse class="t" rx="17" ry="21"/><use href="#R"/></g>
<g id="k19_12" transform="translate(656 998)"><ellipse class="n" rx="17" ry="21"/><use href="#R"/></g>
<g id="k19_13" transform="translate(708 998)"><ellipse class="n" rx="17" ry="21"/><use href="#R"/></g>
<g id="k19_14" transform="translate(760 998)"><ellipse class="t" rx="17" ry="21"/><use href="#R"/></g>
<g id="k19_15" transform="translate(812 998)"><ellipse class="g" rx="17" ry="21"/><use href="#R"/></g>
<g id="k19_16" transform="translate(864 998)"><ellipse class="d" rx="17" ry="21"/><use href="#R"/></g>
<g id="k19_17" transform="translate(916 998)"><ellipse class="d" rx="17" ry="21"/><use href="#R"/></g>
<g id="k20_1" transform="translate(84 1050)"><ellipse class="d" rx="17" ry="21"/><use href="#L"/></g>
<g id="k20_2" transform="translate(136 1050)"><ellipse class="d" rx="17" ry="21"/><use href="#L"/></g>
<g id="k20_3" transform="translate(188 1050)"><ellipse class="g" rx="17" ry="21"/><use href="#L"/></g>
<g id="k20_4" transform="translate(240 1050)"><ellipse class="t" rx="17" ry="21"/><use href="#L"/></g>
<g id="k20_5" transform="translate(292 1050)"><ellipse class="t" rx="17" ry="21"/><use href="#L"/></g>
<g id="k20_6" transform="translate(344 1050)"><ellipse class="t" rx="17" ry="21"/><use href="#L"/></g>
<g id="k20_7" transform="translate(396 1050)"><ellipse class="t" rx="17" ry="21"/><use href="#L"/></g>
<g id="k20_8" transform="translate(448 1050)"><ellipse class="t" rx="17" ry="21"/><use href="#L"/></g>
<g id="k20_9" transform="translate(500 1050)"><ellipse class="t" rx="17" ry="21"/><use href="#L"/></g>
<g id="k20_10" transform="translate(552 1050)"><ellipse class="t" rx="17" ry="21"/><use href="#L"/></g>
<g id="k20_11" transform="translate(604 1050)"><ellipse class="t" rx="17" ry="21"/><use href="#L"/></g>
<g id="k20_12" transform="translate(656 1050)"><ellipse class="n" rx="17" ry="21"/><use href="#L"/></g>
<g id="k20_13" transform="translate(708 1050)"><ellipse class="n" rx="17" ry="21"/><use href="#L"/></g>
<g id="k20_14" transform="translate(760 1050)"><ellipse class="t" rx="17" ry="21"/><use href="#L"/></g>
<g id="k20_15" transform="translate(812 1050)"><ellipse class="g" rx="17" ry="21"/><use href="#L"/></g>
<g id="k20_16" transform="translate(864 1050)"><ellipse class="d" rx="17" ry="21"/><use href="#L"/></g>
<g id="k20_17" transform="translate(916 1050)"><ellipse class="d" rx="17" ry="21"/><use href="#L"/></g>
<g id="k21_1" transform="translate(84 1102)"><ellipse class="d" rx="17" ry="21"/><use href="#R"/></g>
<g id="k21_2" transform="translate(136 1102)"><ellipse class="d" rx="17" ry="21"/><use href="#R"/></g>
<g id="k21_3" transform="translate(188 1102)"><ellipse class="g" rx="17" ry="21"/><use href="#R"/></g>
<g id="k21_4" transform="translate(240 1102)"><ellipse class="t" rx="17" ry="21"/><use href="#R"/></g>
<g id="k21_5" transform="translate(292 1102)"><ellipse class="t" rx="17" ry="21"/><use href="#R"/></g>
<g id="k21_6" transform="translate(344 1102)"><ellipse class="t" rx="17" ry="21"/><use href="#R"/></g>
<g id="k21_7" transform="translate(396 1102)"><ellipse class="t" rx="17" ry="21"/><use href="#R"/></g>
<g id="k21_8" transform="translate(448 1102)"><ellipse class="t" rx="17" ry="21"/><use href="#R"/></g>
<g id="k21_9" transform="translate(500 1102)"><ellipse class="t" rx="17" ry="21"/><use href="#R"/></g>
<g id="k21_10" transform="translate(552 1102)"><ellipse class="t" rx="17" ry="21"/><use href="#R"/></g>
<g id="k21_11" transform="translate(604 1102)"><ellipse class="n" rx="17" ry="21"/><use href="#R"/></g>
<g id="k21_12" transform="translate(656 1102)"><ellipse class="n" rx="17" ry="21"/><use href="#R"/></g>
<g id="k21_13" transform="translate(708 1102)"><ellipse class="n" rx="17" ry="21"/><use href="#R"/></g>
<g id="k21_14" transform="translate(760 1102)"><ellipse class="t" rx="17" ry="21"/><use href="#R"/></g>
<g id="k21_15" transform="translate(812 1102)"><ellipse class="g" rx="17" ry="21"/><use href="#R"/></g>
<g id="k21_16" transform="translate(864 1102)"><ellipse class="d" rx="17" ry="21"/><use href="#R"/></g>
<g id="k21_17" transform="translate(916 1102)"><ellipse class="d" rx="17" ry="21"/><use href="#R"/></g>
<g id="k22_1" transform="translate(84 1154)"><ellipse class="d" rx="17" ry="21"/><use href="#L"/></g>
<g id="k22_2" transform="translate(136 1154)"><ellipse class="d" rx="17" ry="21"/><use href="#L"/></g>
<g id="k22_3" transform="translate(188 1154)"><ellipse class="d" rx="17" ry="21"/><use href="#L"/></g>
<g id="k22_4" transform="translate(240 1154)"><ellipse class="g" rx="17" ry="21"/><use href="#L"/></g>
<g id="k22_5" transform="translate(292 1154)"><ellipse class="t" rx="17" ry="21"/><use href="#L"/></g>
<g id="k22_6" transform="translate(344 1154)"><ellipse class="t" rx="17" ry="21"/><use href="#L"/></g>
<g id="k22_7" transform="translate(396 1154)"><ellipse class="t" rx="17" ry="21"/><use href="#L"/></g>
<g id="k22_8" transform="translate(448 1154)"><ellipse class="t" rx="17" ry="21"/><use href="#L"/></g>
<g id="k22_9" transform="translate(500 1154)"><ellipse class="t" rx="17" ry="21"/><use href="#L"/></g>
<g id="k22_10" transform="translate(552 1154)"><ellipse class="n" rx="17" ry="21"/><use href="#L"/></g>
<g id="k22_11" transform="translate(604 1154)"><ellipse class="n" rx="17" ry="21"/><use href="#L"/></g>
<g id="k22_12" transform="translate(656 1154)"><ellipse class="n" rx="17" ry="21"/><use href="#L"/></g>
<g id="k22_13" transform="translate(708 1154)"><ellipse class="t" rx="17" ry="21"/><use href="#L"/></g>
<g id="k22_14" transform="translate(760 1154)"><ellipse class="g" rx="17" ry="21"/><use href="#L"/></g>
<g id="k22_15" transform="translate(812 1154)"><ellipse class="d" rx="17" ry="21"/><use href="#L"/></g>
<g id="k22_16" transform="translate(864 1154)"><ellipse class="d" rx="17" ry="21"/><use href="#L"/></g>
<g id="k22_17" transform="translate(916 1154)"><ellipse class="d" rx="17" ry="21"/><use href="#L"/></g>
<g id="k23_1" transform="translate(84 1206)"><ellipse class="d" rx="17" ry="21"/><use href="#R"/></g>
<g id="k23_2" transform="translate(136 1206)"><ellipse class="d" rx="17" ry="21"/><use href="#R"/></g>
<g id="k23_3" transform="translate(188 1206)"><ellipse class="d" rx="17" ry="21"/><use href="#R"/></g>
<g id="k23_4" transform="translate(240 1206)"><ellipse class="d" rx="17" ry="21"/><use href="#R"/></g>
<g id="k23_5" transform="translate(292 1206)"><ellipse class="g" rx="17" ry="21"/><use href="#R"/></g>
<g id="k23_6" transform="translate(344 1206)"><ellipse class="t" rx="17" ry="21"/><use href="#R"/></g>
<g id="k23_7" transform="translate(396 1206)"><ellipse class="t" rx="17" ry="21"/><use href="#R"/></g>
<g id="k23_8" transform="translate(448 1206)"><ellipse class="t" rx="17" ry="21"/><use href="#R"/></g>
<g id="k23_9" transform="translate(500 1206)"><ellipse class="t" rx="17" ry="21"/><use href="#R"/></g>
<g id="k23_10" transform="translate(552 1206)"><ellipse class="t" rx="17" ry="21"/><use href="#R"/></g>
<g id="k23_11" transform="translate(604 1206)"><ellipse class="t" rx="17" ry="21"/><use href="#R"/></g>
<g id="k23_12" transform="translate(656 1206)"><ellipse class="t" rx="17" ry="21"/><use href="#R"/></g>
<g id="k23_13" transform="translate(708 1206)"><ellipse class="g" rx="17" ry="21"/><use href="#R"/></g>
<g id="k23_14" transform="translate(760 1206)"><ellipse class="d" rx="17" ry="21"/><use href="#R"/></g>
<g id="k23_15" transform="translate(812 1206)"><ellipse class="d" rx="17" ry="21"/><use href="#R"/></g>
<g id="k23_16" transform="translate(864 1206)"><ellipse class="d" rx="17" ry="21"/><use href="#R"/></g>
<g id="k23_17" transform="translate(916 1206)"><ellipse class="d" rx="17" ry="21"/><use href="#R"/></g>
<g id="k24_1" transform="translate(84 1258)"><ellipse class="d" rx="17" ry="21"/><use href="#L"/></g>
<g id="k24_2" transform="translate(136 1258)"><ellipse class="d" rx="17" ry="21"/><use href="#L"/></g>
<g id="k24_3" transform="translate(188 1258)"><ellipse class="d" rx="17" ry="21"/><use href="#L"/></g>
<g id="k24_4" transform="translate(240 1258)"><ellipse class="d" rx="17" ry="21"/><use href="#L"/></g>
<g id="k24_5" transform="translate(292 1258)"><ellipse class="d" rx="17" ry="21"/><use href="#L"/></g>
<g id="k24_6" transform="translate(344 1258)"><ellipse class="g" rx="17" ry="21"/><use href="#L"/></g>
<g id="k24_7" transform="translate(396 1258)"><ellipse class="g" rx="17" ry="21"/><use href="#L"/></g>
<g id="k24_8" transform="translate(448 1258)"><ellipse class="g" rx="17" ry="21"/><use href="#L"/></g>
<g id="k24_9" transform="translate(500 1258)"><ellipse class="g" rx="17" ry="21"/><use href="#L"/></g>
<g id="k24_10" transform="translate(552 1258)"><ellipse class="g" rx="17" ry="21"/><use href="#L"/></g>
<g id="k24_11" transform="translate(604 1258)"><ellipse class="g" rx="17" ry="21"/><use href="#L"/></g>
<g id="k24_12" transform="translate(656 1258)"><ellipse class="g" rx="17" ry="21"/><use href="#L"/></g>
<g id="k24_13" transform="translate(708 1258)"><ellipse class="d" rx="17" ry="21"/><use href="#L"/></g>
<g id="k24_14" transform="translate(760 1258)"><ellipse class="d" rx="17" ry="21"/><use href="#L"/></g>
<g id="k24_15" transform="translate(812 1258)"><ellipse class="d" rx="17" ry="21"/><use href="#L"/></g>
<g id="k24_16" transform="translate(864 1258)"><ellipse class="d" rx="17" ry="21"/><use href="#L"/></g>
<g id="k24_17" transform="translate(916 1258)"><ellipse class="d" rx="17" ry="21"/><use href="#L"/></g>
<g id="k25_1" transform="translate(84 1310)"><ellipse class="d" rx="17" ry="21"/><use href="#R"/></g>
<g id="k25_2" transform="translate(136 1310)"><ellipse class="d" rx="17" ry="21"/><use href="#R"/></g>
<g id="k25_3" transform="translate(188 1310)"><ellipse class="d" rx="17" ry="21"/><use href="#R"/></g>
<g id="k25_4" transform="translate(240 1310)"><ellipse class="d" rx="17" ry="21"/><use href="#R"/></g>
<g id="k25_5" transform="translate(292 1310)"><ellipse class="d" rx="17" ry="21"/><use href="#R"/></g>
<g id="k25_6" transform="translate(344 1310)"><ellipse class="d" rx="17" ry="21"/><use href="#R"/></g>
<g id="k25_7" transform="translate(396 1310)"><ellipse class="d" rx="17" ry="21"/><use href="#R"/></g>
<g id="k25_8" transform="translate(448 1310)"><ellipse class="d" rx="17" ry="21"/><use href="#R"/></g>
<g id="k25_9" transform="translate(500 1310)"><ellipse class="d" rx="17" ry="21"/><use href="#R"/></g>
<g id="k25_10" transform="translate(552 1310)"><ellipse class="d" rx="17" ry="21"/><use href="#R"/></g>
<g id="k25_11" transform="translate(604 1310)"><ellipse class="d" rx="17" ry="21"/><use href="#R"/></g>
<g id="k25_12" transform="translate(656 1310)"><ellipse class="d" rx="17" ry="21"/><use href="#R"/></g>
<g id="k25_13" transform="translate(708 1310)"><ellipse class="d" rx="17" ry="21"/><use href="#R"/></g>
<g id="k25_14" transform="translate(760 1310)"><ellipse class="d" rx="17" ry="21"/><use href="#R"/></g>
<g id="k25_15" transform="translate(812 1310)"><ellipse class="d" rx="17" ry="21"/><use href="#R"/></g>
<g id="k25_16" transform="translate(864 1310)"><ellipse class="d" rx="17" ry="21"/><use href="#R"/></g>
<g id="k25_17" transform="translate(916 1310)"><ellipse class="d" rx="17" ry="21"/><use href="#R"/></g>
<g id="k26_1" transform="translate(84 1362)"><ellipse class="d" rx="17" ry="21"/><use href="#L"/></g>
<g id="k26_2" transform="translate(136 1362)"><ellipse class="d" rx="17" ry="21"/><use href="#L"/></g>
<g id="k26_3" transform="translate(188 1362)"><ellipse class="d" rx="17" ry="21"/><use href="#L"/></g>
<g id="k26_4" transform="translate(240 1362)"><ellipse class="d" rx="17" ry="21"/><use href="#L"/></g>
<g id="k26_5" transform="translate(292 1362)"><ellipse class="d" rx="17" ry="21"/><use href="#L"/></g>
<g id="k26_6" transform="translate(344 1362)"><ellipse class="d" rx="17" ry="21"/><use href="#L"/></g>
<g id="k26_7" transform="translate(396 1362)"><ellipse class="d" rx="17" ry="21"/><use href="#L"/></g>
<g id="k26_8" transform="translate(448 1362)"><ellipse class="d" rx="17" ry="21"/><use href="#L"/></g>
<g id="k26_9" transform="translate(500 1362)"><ellipse class="d" rx="17" ry="21"/><use href="#L"/></g>
<g id="k26_10" transform="translate(552 1362)"><ellipse class="d" rx="17" ry="21"/><use href="#L"/></g>
<g id="k26_11" transform="translate(604 1362)"><ellipse class="d" rx="17" ry="21"/><use href="#L"/></g>
<g id="k26_12" transform="translate(656 1362)"><ellipse class="d" rx="17" ry="21"/><use href="#L"/></g>
<g id="k26_13" transform="translate(708 1362)"><ellipse class="d" rx="17" ry="21"/><use href="#L"/></g>
<g id="k26_14" transform="translate(760 1362)"><ellipse class="d" rx="17" ry="21"/><use href="#L"/></g>
<g id="k26_15" transform="translate(812 1362)"><ellipse class="d" rx="17" ry="21"/><use href="#L"/></g>
<g id="k26_16" transform="translate(864 1362)"><ellipse class="d" rx="17" ry="21"/><use href="#L"/></g>
<g id="k26_17" transform="translate(916 1362)"><ellipse class="d" rx="17" ry="21"/><use href="#L"/></g>
</g>
<text id="watermark" class="wm" x="500" y="716" text-anchor="middle">BRACELETBOOK.COM</text>
</svg>
